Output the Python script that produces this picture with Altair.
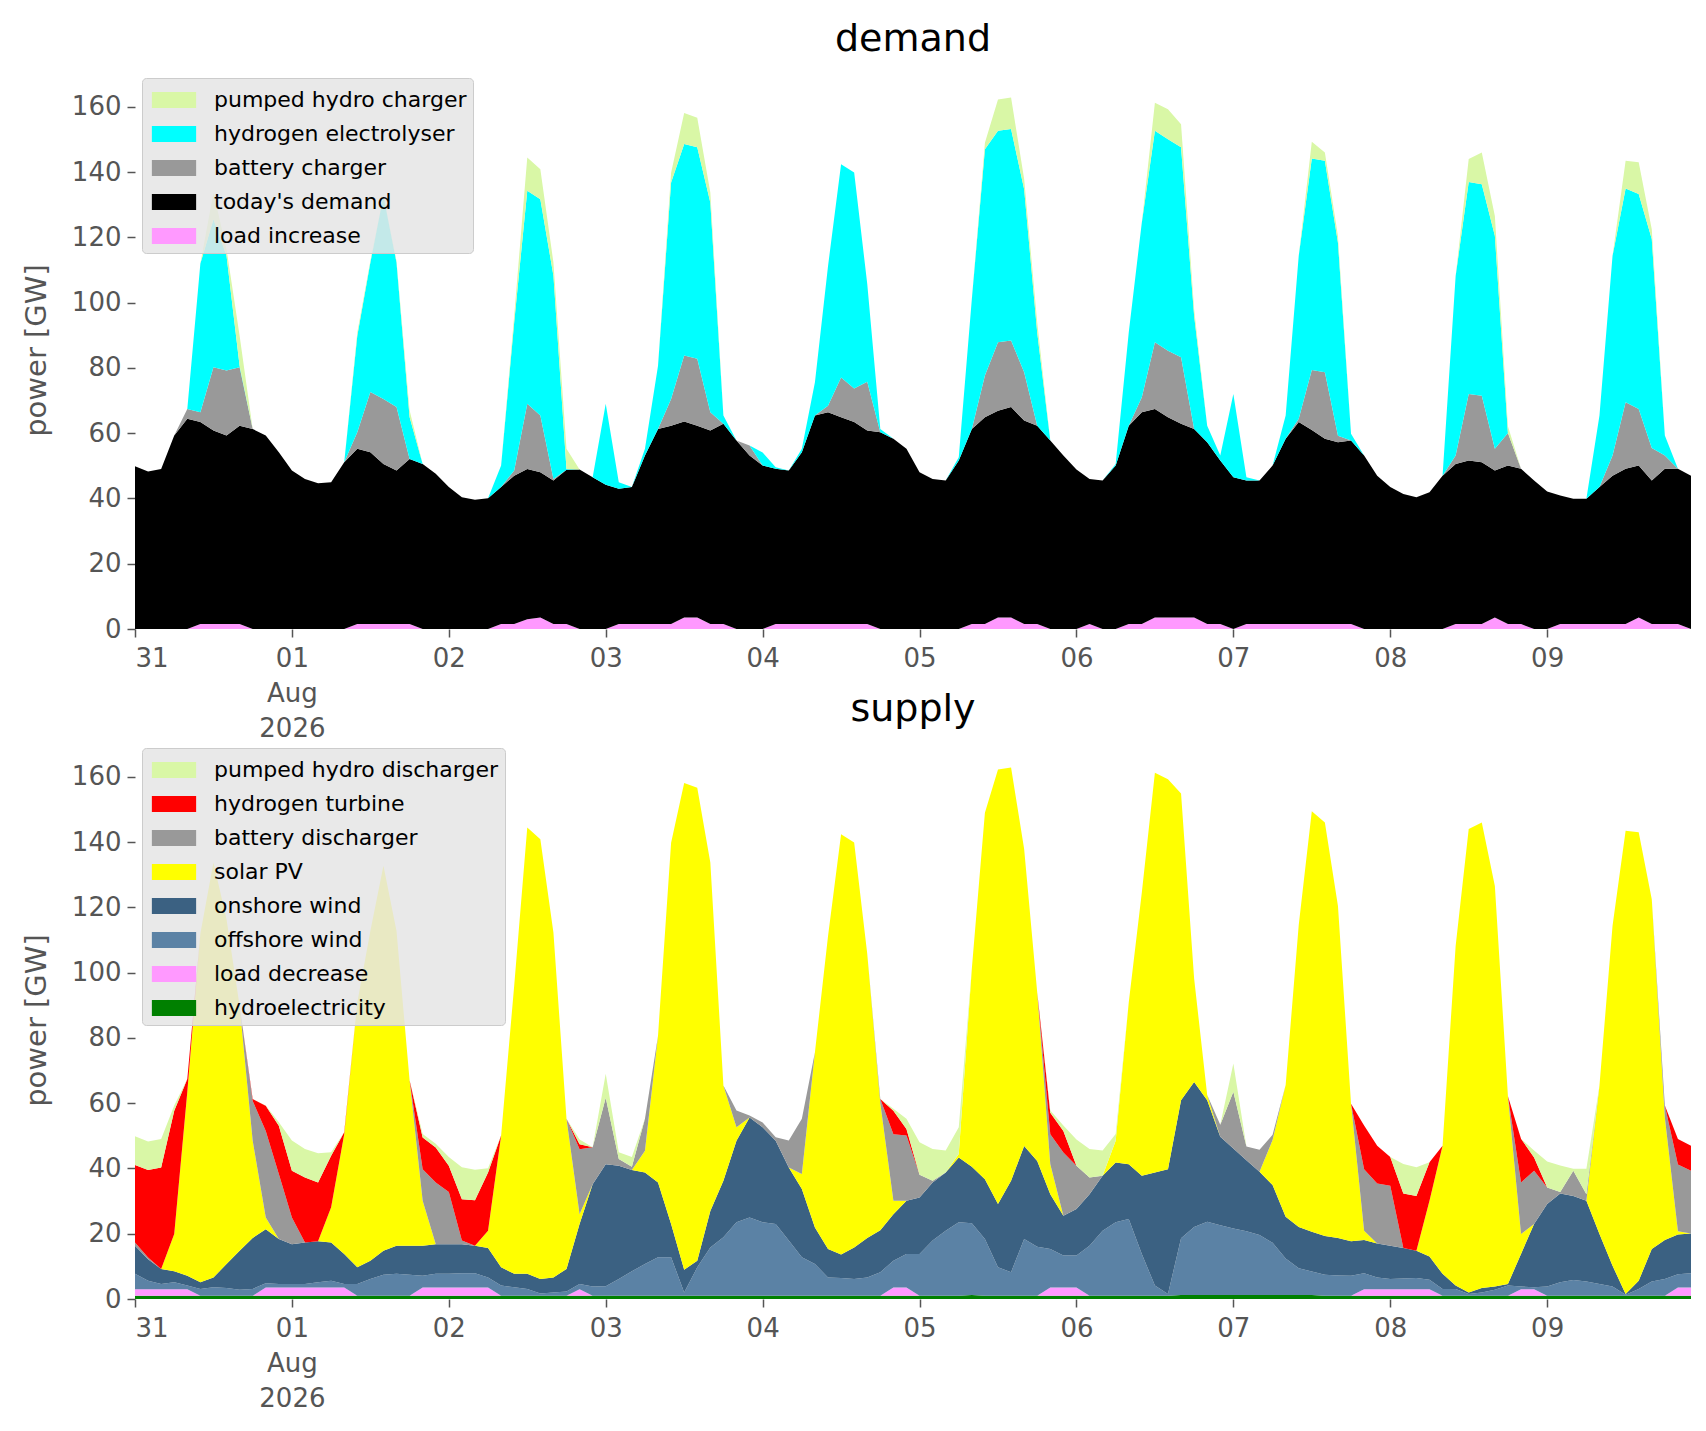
import altair as alt
import pandas as pd

# two-hourly snapshots, 31 Jul 2026 00:00 .. 9 Aug 2026 22:00 (UTC)
times = list(pd.date_range("2026-07-31", periods=120, freq="2h").strftime("%Y-%m-%dT%H:%M:%SZ"))

# ---- demand side [GW], one row per day ----
load_increase = [
    0, 0, 0, 0, 0, 1.5, 1.5, 1.5, 1.5, 0, 0, 0,
    0, 0, 0, 0, 0, 1.5, 1.5, 1.5, 1.5, 1.5, 0, 0,
    0, 0, 0, 0, 1.5, 1.5, 3, 3.5, 1.5, 1.5, 0, 0,
    0, 1.5, 1.5, 1.5, 1.5, 1.5, 3.5, 3.5, 1.5, 1.5, 0, 0,
    0, 1.5, 1.5, 1.5, 1.5, 1.5, 1.5, 1.5, 1.5, 0, 0, 0,
    0, 0, 0, 0, 1.5, 1.5, 3.5, 3.5, 1.5, 1.5, 0, 0,
    0, 1.5, 0, 0, 1.5, 1.5, 3.5, 3.5, 3.5, 3.5, 1.5, 1.5,
    0, 1.5, 1.5, 1.5, 1.5, 1.5, 1.5, 1.5, 1.5, 1.5, 0, 0,
    0, 0, 0, 0, 0, 1.5, 1.5, 1.5, 3.5, 1.5, 1.5, 0,
    0, 1.5, 1.5, 1.5, 1.5, 1.5, 1.5, 3.5, 1.5, 1.5, 1.5, 0,
]
todays_demand = [
    49.9, 48.3, 49.0, 59.3, 64.4, 61.9, 59.3, 57.8, 60.8, 61.3, 59.3, 54.2,
    48.6, 46.0, 44.7, 45.0, 51.1, 53.7, 52.7, 49.1, 47.1, 50.6, 50.6, 47.6,
    43.5, 40.4, 39.6, 40.1, 42.0, 45.5, 46.0, 44.5, 44.0, 47.3, 48.9, 46.5,
    44.2, 41.5, 42.0, 51.7, 59.8, 60.8, 60.1, 58.8, 59.3, 61.4, 57.8, 53.2,
    50.1, 47.6, 47.1, 52.7, 63.9, 64.9, 63.4, 61.9, 59.3, 60.3, 58.3, 55.2,
    48.0, 46.0, 45.5, 51.6, 59.8, 63.4, 63.4, 64.5, 62.4, 60.8, 57.8, 53.2,
    48.9, 44.5, 45.5, 50.1, 60.8, 64.9, 63.9, 61.4, 59.4, 57.8, 55.7, 50.1,
    46.5, 44.0, 44.0, 48.6, 56.8, 61.9, 59.5, 56.8, 55.7, 56.3, 53.2, 47.0,
    43.5, 41.4, 40.4, 41.9, 47.0, 49.1, 50.1, 49.6, 45.1, 48.6, 47.6, 45.5,
    42.1, 39.4, 38.4, 38.4, 42.0, 45.5, 47.6, 46.6, 44.0, 47.6, 47.6, 47.0,
]
battery_charger = [
    0, 0, 0, 0, 3, 3, 19.4, 19.9, 17.9, 0, 0, 0,
    0, 0, 0, 0, 0, 5.1, 18.4, 19.9, 19.4, 0, 0, 0,
    0, 0, 0, 0, 0, 1.6, 20, 17.4, 0.5, 0, 0, 0,
    0, 0, 0, 0, 0, 8.2, 20.2, 20.5, 5.6, 0, 0, 3,
    0, 0, 0, 0, 0, 2, 12.2, 10.3, 15, 0, 0, 0,
    0, 0, 0, 0, 0, 12.8, 21, 20.4, 14.8, 0, 0, 0,
    0, 0, 0, 0, 0, 4.6, 20.5, 20.4, 20.4, 0, 0, 0,
    0, 0, 0, 0, 0, 1, 18.4, 20.4, 2, 0, 0, 0,
    0, 0, 0, 0, 0, 2.6, 20.4, 20.4, 6.6, 10, 0, 0,
    0, 0, 0, 0, 0, 6.2, 20.4, 17.3, 10, 4.1, 0, 0,
]
hydrogen_electrolyser = [
    0, 0, 0, 0, 0, 45.6, 45.4, 35.2, 0.5, 0, 0, 0,
    0, 0, 0, 0, 0, 29.6, 39.7, 62.3, 44.3, 12.9, 0, 0,
    0, 0, 0, 0, 6.6, 45.4, 65.3, 66.3, 62.3, 0.2, 0, 0,
    24.8, 2, 0, 2, 19.4, 66.3, 64.8, 64.8, 64.3, 2.5, 0, 0,
    4, 0.5, 0, 1, 10.2, 42.8, 65.3, 66.2, 30, 1, 0, 0,
    0, 0, 0, 1, 39.8, 69.3, 64.8, 64.8, 56.1, 28.6, 0, 0,
    0, 0, 0, 0.5, 28.6, 53.6, 64.8, 64.8, 64.3, 34.7, 5.1, 1.6,
    25.5, 1, 0, 0, 7.1, 50, 64.8, 64.8, 59.2, 2, 0, 0,
    0, 0, 0, 0, 0, 55, 65, 64.8, 65.3, 0, 0, 0,
    0, 0, 0, 0, 21.9, 61.2, 65.5, 65.9, 64, 6.1, 0, 0,
]
pumped_hydro_charger = [
    0, 0, 0, 0, 0, 0, 8.2, 2, 9.2, 0, 0, 0,
    0, 0, 0, 0, 0, 1, 0.5, 0, 0.5, 2, 0, 0,
    0, 0, 0, 0, 0, 2, 10.2, 9.2, 4, 6.2, 0, 0,
    0, 0, 0, 0, 0, 3, 9.5, 9.1, 3.1, 0, 0, 0,
    0, 0, 0, 0, 0, 0, 0, 0, 0, 0, 0, 0,
    0, 0, 0, 0, 0, 2, 9.6, 9.7, 3.1, 3.1, 0, 0,
    0, 0, 0, 0, 0, 0, 8.6, 9.2, 7.1, 2, 0, 0,
    0, 0, 0, 0, 0, 0, 5.1, 2.5, 2, 0, 0, 0,
    0, 0, 0, 0, 0, 0, 7, 9.7, 6.1, 2, 0, 0,
    0, 0, 0, 0, 0, 0, 8.5, 9.7, 3, 0, 0, 0,
]

# ---- supply side [GW] ----
hydroelectricity = [
    1.0, 1.0, 1.0, 1.0, 1.0, 1.0, 1.0, 1.0, 1.0, 1.0, 1.0, 1.0,
    1.0, 1.0, 1.0, 1.0, 1.0, 1.0, 1.0, 1.0, 1.0, 1.0, 1.0, 1.0,
    1.0, 1.0, 1.0, 1.0, 1.0, 1.0, 1.0, 1.0, 1.0, 1.0, 1.0, 1.0,
    1.0, 1.0, 1.0, 1.0, 1.0, 1.0, 1.0, 1.0, 1.0, 1.0, 1.0, 1.0,
    1.0, 1.0, 1.0, 1.0, 1.0, 1.0, 1.0, 1.0, 1.0, 1.0, 1.0, 1.0,
    1.0, 1.0, 1.0, 1.0, 1.2, 1.0, 1.0, 1.0, 1.0, 1.0, 1.0, 1.0,
    1.0, 1.0, 1.0, 1.0, 1.0, 1.0, 1.0, 1.0, 1.2, 1.2, 1.2, 1.2,
    1.2, 1.2, 1.2, 1.2, 1.2, 1.2, 1.2, 1.0, 1.0, 1.0, 1.0, 1.0,
    1.0, 1.0, 1.0, 1.0, 1.0, 1.0, 1.0, 1.0, 1.0, 1.0, 1.0, 1.0,
    1.0, 1.0, 1.0, 1.0, 1.0, 1.0, 1.0, 1.0, 1.0, 1.0, 1.0, 1.0,
]
load_decrease = [
    2, 2, 2, 2, 2, 0, 0, 0, 0, 0, 2.5, 2.5,
    2.5, 2.5, 2.5, 2.5, 2.5, 0, 0, 0, 0, 0, 2.5, 2.5,
    2.5, 2.5, 2.5, 2.5, 0, 0, 0, 0, 0, 0, 2, 0,
    0, 0, 0, 0, 0, 0, 0, 0, 0, 0, 0, 0,
    0, 0, 0, 0, 0, 0, 0, 0, 0, 0, 2.5, 2.5,
    0, 0, 0, 0, 0, 0, 0, 0, 0, 0, 2.5, 2.5,
    2.5, 0, 0, 0, 0, 0, 0, 0, 0, 0, 0, 0,
    0, 0, 0, 0, 0, 0, 0, 0, 0, 0, 2, 2,
    2, 2, 2, 2, 0, 0, 0, 0, 0, 0, 2, 2,
    0, 0, 0, 0, 0, 0, 0, 0, 0, 0, 2.5, 2.5,
]
offshore_wind = [
    4.7, 2.6, 1.6, 2.1, 1.1, 2.1, 2.6, 2.4, 1.8, 2.1, 1.3, 1.1,
    1.1, 1.1, 1.6, 2.1, 1.1, 3.6, 5.1, 6.4, 6.7, 6.4, 3.6, 4.2,
    4.2, 4.4, 4.4, 3.1, 3.1, 2.6, 2.1, 0.7, 1.0, 1.3, 1.6, 2.8,
    2.9, 5.1, 7.5, 9.7, 11.8, 11.8, 1.0, 8.7, 14.8, 17.9, 22.5, 24.0,
    22.5, 22.0, 16.9, 11.8, 9.7, 5.6, 5.4, 5.1, 5.6, 7.2, 8.2, 10.3,
    12.8, 16.9, 19.9, 22.5, 22.0, 17.4, 8.7, 7.2, 17.4, 15.0, 11.8, 9.8,
    9.8, 15.3, 19.9, 22.5, 23.5, 12.8, 3.1, 0.5, 17.4, 20.9, 22.5, 21.4,
    20.4, 19.6, 18.4, 16.0, 11.2, 8.2, 7.2, 6.4, 6.2, 6.1, 4.9, 3.6,
    3.1, 3.3, 3.4, 2.9, 2.1, 2.1, 0.5, 1.0, 1.8, 3.1, 0.8, 0.6,
    2.8, 4.1, 4.8, 4.4, 3.6, 2.8, 0.3, 2.1, 4.4, 5.1, 4.1, 4.4,
]
onshore_wind = [
    8.6, 6.6, 4.6, 3.4, 3.0, 2.0, 3.0, 7.3, 12.0, 15.6, 16.6, 13.8,
    12.2, 12.7, 12.6, 11.7, 9.2, 5.1, 5.6, 7.4, 8.6, 8.9, 9.2, 9.1,
    9.1, 8.9, 8.4, 9.0, 5.6, 4.1, 4.6, 4.4, 4.6, 6.9, 18.4, 31.4,
    37.4, 34.7, 31.0, 28.1, 22.9, 10.2, 7.0, 2.0, 11.2, 17.3, 25.0, 30.6,
    29.1, 25.5, 22.4, 20.9, 11.2, 8.7, 7.2, 9.7, 12.1, 12.9, 14.3, 16.3,
    17.3, 17.8, 17.9, 19.9, 17.3, 18.3, 19.4, 28.0, 28.5, 26.3, 16.8, 12.2,
    14.3, 15.8, 16.9, 18.3, 16.8, 24.0, 34.7, 38.3, 42.3, 44.4, 37.2, 27.1,
    24.5, 21.7, 19.4, 17.7, 12.8, 12.7, 12.2, 11.9, 11.5, 10.6, 10.2, 10.4,
    10.2, 9.3, 8.4, 7.1, 4.6, 1.0, 0.5, 1.4, 1.0, 0.5, 10.0, 19.4,
    25.3, 27.2, 25.8, 24.7, 15.3, 6.4, 0.2, 2.5, 9.9, 12.0, 12.2, 12.2,
]
solar_pv = [
    0, 0, 0, 11.4, 56.3, 106.9, 127.2, 105.7, 75.1, 29.8, 3.6, 0,
    0, 0, 0, 10.8, 36.7, 81.2, 101.1, 118.0, 96.5, 50.7, 13.8, 0,
    0, 0, 0, 5.3, 40.4, 88.3, 136.8, 134.8, 105.7, 46.0, 3.0, 0,
    0, 0, 0, 6.6, 45.0, 116.8, 149.1, 145.0, 106.8, 29.2, 4.1, 0,
    0, 0, 0, 4.6, 53.7, 95.9, 128.8, 124.1, 87.1, 38.9, 4.1, 0,
    0, 0, 0, 1.0, 60.8, 112.3, 133.2, 126.7, 91.0, 51.7, 9.2, 0,
    0, 0, 0, 6.7, 49.6, 86.8, 122.5, 119.5, 94.0, 31.7, 1.6, 0,
    0, 0, 0, 13.8, 40.4, 92.5, 128.9, 126.7, 101.7, 42.1, 2.8, 0,
    0, 0, 0, 17.1, 39.3, 104.1, 142.0, 142.6, 122.8, 57.5, 6.1, 0,
    0, 0, 0, 0, 45.5, 104.2, 142.0, 137.4, 107.2, 37.5, 1.0, 0,
]
battery_discharger = [
    1, 0.5, 0, 0, 0, 0, 0, 0, 0, 12.2, 26.5, 19.9,
    8.2, 0, 0, 0, 0, 0, 0, 0, 0, 0, 9.7, 18.9,
    16, 1.1, 0, 0, 0, 0, 0, 0, 0, 0, 19.9, 11.3,
    20.4, 2.1, 1, 9.8, 0, 0, 0, 0, 0, 0, 5.2, 0.6,
    1.5, 1.1, 8.3, 16.9, 0, 0, 0, 0, 0, 1.3, 20.4, 20,
    7, 0.5, 0, 0, 0, 0, 0, 0, 0, 0, 9.2, 19.4,
    13.2, 5.1, 0, 0, 0, 0, 0, 0, 0, 0, 0, 3.7,
    17.4, 4.2, 6.7, 1.6, 0, 0, 0, 0, 0, 0, 18.9, 18.4,
    18.4, 0, 0, 0, 0, 0, 0, 0, 0, 0, 15.8, 16.3,
    5.1, 0.5, 7.7, 2, 0, 0, 0, 0, 0, 3.7, 20.4, 19.2,
]
hydrogen_turbine = [
    23.8, 26.8, 31.1, 37.8, 4, 0, 0, 0, 0, 0.6, 7.7, 14.8,
    14.3, 19.9, 18, 15.8, 0.6, 0, 0, 0, 0, 0, 9.7, 10.7,
    8, 12.7, 14, 17.9, 0, 0, 0, 0, 0, 0, 1.5, 0,
    0, 0, 0, 0, 0, 0, 0, 0, 0, 0, 0, 0,
    0, 0, 0, 0, 0, 0, 0, 0, 0, 0, 7.2, 2,
    0, 0, 0, 0, 0, 0, 0, 0, 0, 0, 6.6, 6.6,
    0, 0, 0, 0, 0, 0, 0, 0, 0, 0, 0, 0,
    0, 0, 0, 0, 0, 0, 0, 0, 0, 0, 13.4, 11.6,
    8.8, 16.7, 16.8, 11.8, 0, 0, 0, 0, 0, 0, 13.4, 4.1,
    0, 0, 0, 0, 0, 0, 0, 0, 0, 0, 7.8, 7.7,
]
pumped_hydro_discharger = [
    8.8, 8.8, 8.7, 1.6, 0, 0, 0, 0, 0, 0, 0.1, 1.1,
    9.3, 8.8, 9, 1.1, 0, 0, 0, 0, 0, 0, 1.1, 1.2,
    2.7, 9.8, 9.3, 1.3, 0, 0, 0, 0, 0, 0, 1.5, 0,
    7.3, 2.1, 3, 0, 0, 0, 0, 0, 0, 0, 0, 0,
    0, 0, 0, 0, 0, 0, 0, 0, 0, 0, 0.6, 3.1,
    9.9, 9.8, 6.7, 8.2, 0, 0, 0, 0, 0, 0, 0.7, 1.7,
    8.1, 8.8, 7.7, 2.1, 0, 0, 0, 0, 0, 0, 0, 0,
    8.7, 0, 0, 0, 0, 0, 0, 0, 0, 0, 0, 0,
    0, 9.1, 8.8, 0, 0, 0, 0, 0, 0, 0, 0, 2.1,
    7.9, 8.1, 0.6, 7.8, 0, 0, 0, 0, 0, 0, 0, 0,
]

# stacking order is bottom-up; the legend lists it top-down
demand_names = ["load increase", "today's demand", "battery charger",
                "hydrogen electrolyser", "pumped hydro charger"]
demand_values = [load_increase, todays_demand, battery_charger,
                 hydrogen_electrolyser, pumped_hydro_charger]
demand_colours = ["#ff99ff", "#000000", "#999999", "#00ffff", "#d9f7a6"]

supply_names = ["hydroelectricity", "load decrease", "offshore wind", "onshore wind",
                "solar PV", "battery discharger", "hydrogen turbine", "pumped hydro discharger"]
supply_values = [hydroelectricity, load_decrease, offshore_wind, onshore_wind,
                 solar_pv, battery_discharger, hydrogen_turbine, pumped_hydro_discharger]
supply_colours = ["#008000", "#ff99ff", "#5b82a5", "#3b6182",
                  "#ffff00", "#999999", "#ff0000", "#d9f7a6"]

FONT = "DejaVu Sans"
days = [alt.DateTime(year=2026, month=7, date=31, utc=True)] + \
       [alt.DateTime(year=2026, month=8, date=d, utc=True) for d in range(1, 10)]


def long_table(names, values):
    rows = []
    for rank, (name, vals) in enumerate(zip(names, values)):
        assert len(vals) == len(times), name
        for t, v in zip(times, vals):
            rows.append({"time": t, "value": v, "series": name, "rank": rank})
    return pd.DataFrame(rows)


def stack_panel(names, values, colours, title):
    df = long_table(names, values)
    return alt.Chart(df).mark_area(interpolate="linear").encode(
        x=alt.X("time:T",
                scale=alt.Scale(type="utc", nice=False,
                                domain=[alt.DateTime(year=2026, month=7, date=31, utc=True),
                                        alt.DateTime(year=2026, month=8, date=9, hours=22, utc=True)]),
                axis=alt.Axis(title=None, values=days, domain=False, grid=False,
                              tickSize=8, tickColor="#555555", tickWidth=1.5,
                              labelFont=FONT, labelFontSize=26, labelColor="#555555",
                              labelPadding=8, labelLineHeight=35,
                              labelExpr="utcdate(datum.value) == 1 ? [utcFormat(datum.value, '%d'), 'Aug', '2026'] : utcFormat(datum.value, '%d')")),
        y=alt.Y("value:Q", stack="zero",
                scale=alt.Scale(domain=[0, 171], nice=False),
                axis=alt.Axis(title="power [GW]", values=list(range(0, 161, 20)),
                              domain=False, grid=False, tickSize=8, tickColor="#555555",
                              tickWidth=1.5, labelFont=FONT, labelFontSize=26,
                              labelColor="#555555", labelPadding=6,
                              titleFont=FONT, titleFontSize=29, titleFontWeight="normal",
                              titleColor="#555555", titlePadding=20)),
        color=alt.Color("series:N",
                        scale=alt.Scale(domain=names[::-1], range=colours[::-1]),
                        legend=alt.Legend(title=None, orient="top-left", offset=7,
                                          fillColor="rgba(229,229,229,0.85)",
                                          strokeColor="#cccccc", cornerRadius=4,
                                          padding=6, rowPadding=7, symbolOffset=10,
                                          symbolType="M-1.4,-0.5H1.4V0.5H-1.4Z",
                                          symbolSize=1000, symbolStrokeWidth=0,
                                          labelFont=FONT, labelFontSize=22, labelLimit=600,
                                          labelColor="#000000", labelOffset=24)),
        order=alt.Order("rank:Q", sort="ascending"),
    ).properties(
        width=1556, height=558,
        title=alt.TitleParams(title, font=FONT, fontSize=38, fontWeight="normal",
                              color="#000000", anchor="middle", offset=12),
    )


demand = stack_panel(demand_names, demand_values, demand_colours, "demand")
supply = stack_panel(supply_names, supply_values, supply_colours, "supply")

chart = alt.vconcat(demand, supply, spacing=-50).resolve_scale(color="independent").properties(
    padding={"left": 14, "top": 13, "right": 4, "bottom": 4},
).configure_view(strokeWidth=0)

chart.save("out.html", embed_options={"renderer": "svg", "actions": False})
